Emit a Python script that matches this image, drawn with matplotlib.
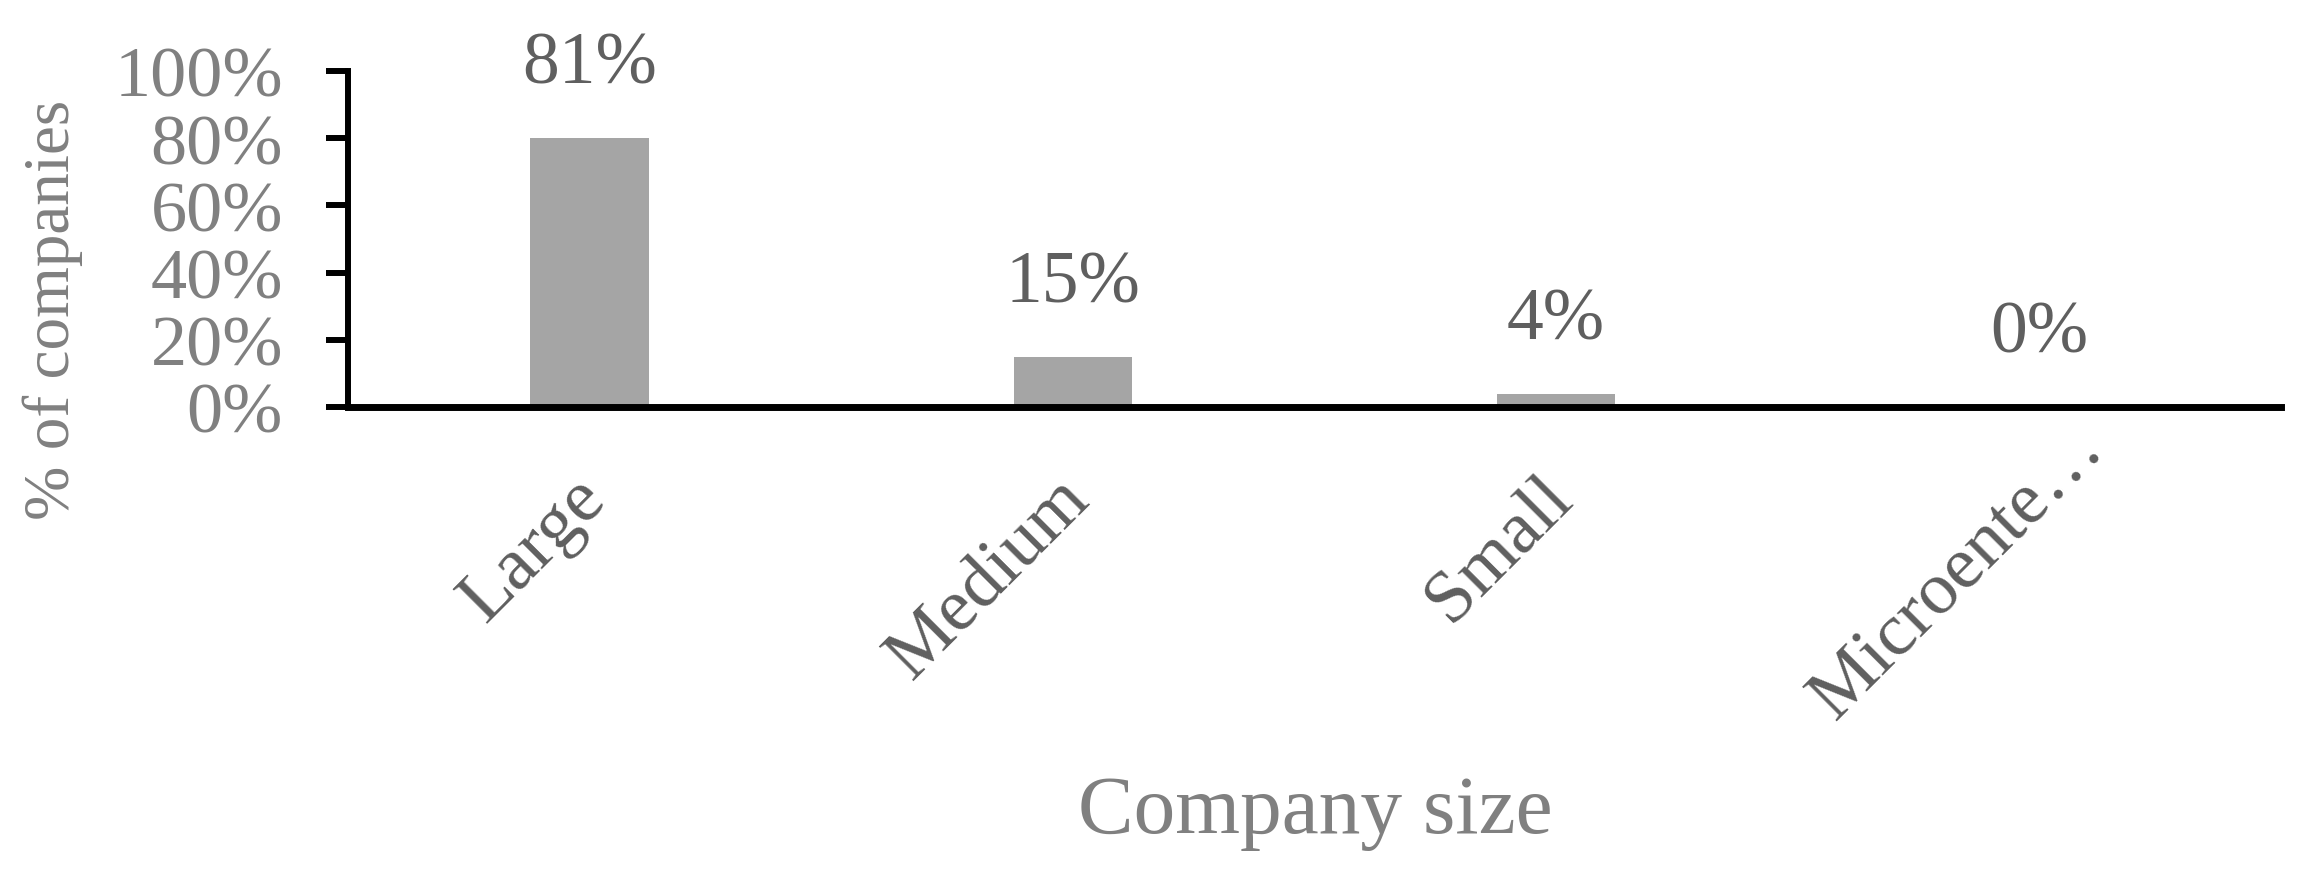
import matplotlib
matplotlib.use("Agg")
import matplotlib.pyplot as plt
from matplotlib.transforms import ScaledTranslation

categories = ["Large", "Medium", "Small", "Microente…"]
values = [0.80, 0.15, 0.04, 0.0]
value_labels = ["81%", "15%", "4%", "0%"]
yticks = [0.0, 0.2, 0.4, 0.6, 0.8, 1.0]
ytick_labels = ["0%", "20%", "40%", "60%", "80%", "100%"]

plt.rcParams['font.family'] = ['Liberation Serif', 'DejaVu Serif']

W, H = 2303, 878
DPI = 100
fig = plt.figure(figsize=(W / DPI, H / DPI), dpi=DPI)
ax = fig.add_axes([348 / W, 1 - 408 / H, (2281 - 348) / W, (408 - 72) / H])

x = list(range(len(categories)))
ax.bar(x, values, width=0.245, color="#a5a5a5", zorder=2)
ax.set_xlim(-0.5, len(categories) - 0.5)
ax.set_ylim(0, 1)

for xi, v, lab in zip(x, values, value_labels):
    ax.annotate(lab, (xi, v), xytext=(0, 40), textcoords="offset points",
                ha="center", va="baseline", fontsize=53, color="#5f5f5f")

ax.set_yticks(yticks)
ax.set_yticklabels(ytick_labels, fontsize=52, color="#808080")
ax.tick_params(axis="y", direction="out", length=15.8, width=4.3, pad=31, color="black")

ax.set_xticks(x)
ax.set_xticklabels(categories, fontsize=54, color="#5f5f5f", rotation=45,
                   ha="right", va="baseline", rotation_mode="anchor")
ax.tick_params(axis="x", length=0, pad=67)
# label anchor offsets (points): shift slightly right; truncated last label sits further along its diagonal
offsets = [(13, 0), (13, 0), (13, 0), (48, 36)]
for lbl, (dx, dy) in zip(ax.get_xticklabels(), offsets):
    lbl.set_transform(lbl.get_transform() + ScaledTranslation(dx / 72, dy / 72, fig.dpi_scale_trans))

for s in ["top", "right"]:
    ax.spines[s].set_visible(False)
ax.spines["left"].set_linewidth(4.3)
ax.spines["bottom"].set_linewidth(5.0)

fig.text(69 / W, 1 - 310 / H, "% of companies", rotation=90, rotation_mode="anchor",
         ha="center", va="baseline", fontsize=47, color="#808080")
fig.text(1315 / W, 1 - 833 / H, "Company size", ha="center", va="baseline",
         fontsize=60, color="#808080")

fig.savefig("out.png", dpi=DPI)
